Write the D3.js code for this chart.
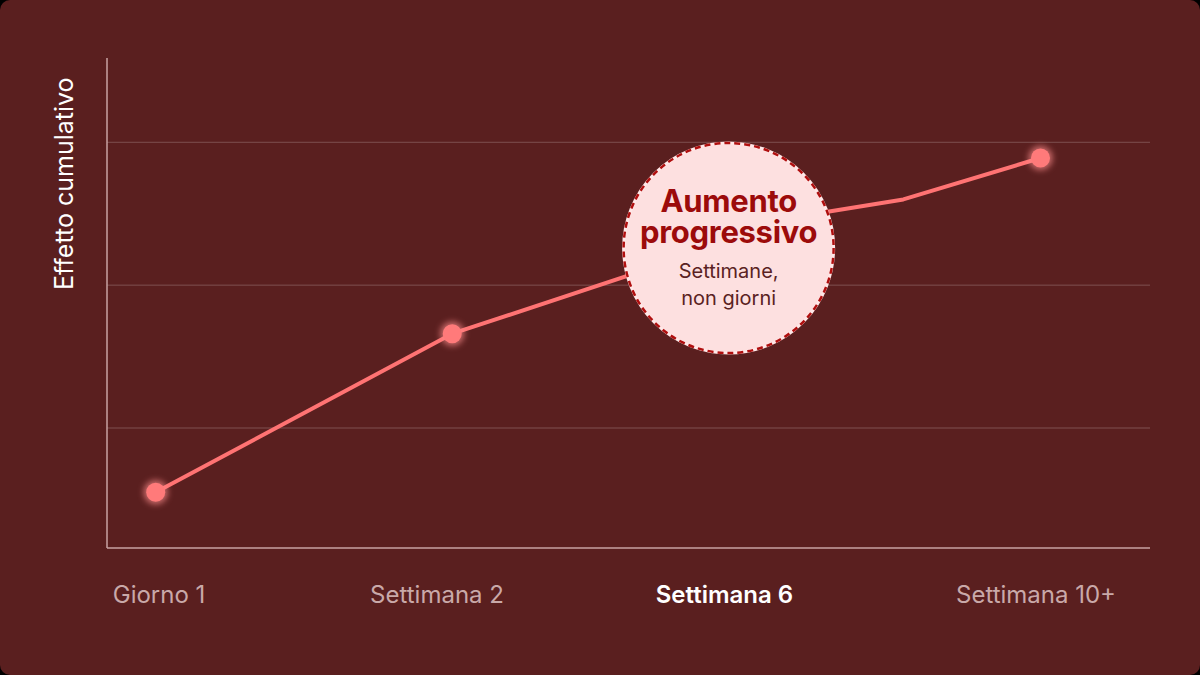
<!DOCTYPE html>
<html>
<head>
<meta charset="utf-8">
<script src="https://cdnjs.cloudflare.com/ajax/libs/d3/7.8.5/d3.min.js"></script>
<style>
  html, body { margin: 0; padding: 0; background: #000; }
  svg { display: block; font-family: Inter, 'Noto Sans', sans-serif; }
</style>
</head>
<body>
<div id="chart"></div>
<script>
// x is position along the time axis (0-100), y is cumulative effect
const pointX = [4.67, 33.1, 67.9, 76.35, 89.5];
const pointY = [0.55, 1.66, 2.5, 2.6, 2.89];
const pointDot = [true, true, false, false, true];

const categories = ['Giorno 1', 'Settimana 2', 'Settimana 6', 'Settimana 10+'];
const categoryX = [4.99, 31.64, 59.2, 89.07];
const highlighted = 'Settimana 6';

const gridValues = [1, 2, 3];
const yTitle = 'Effetto cumulativo';

const calloutTitle = ['Aumento', 'progressivo'];
const calloutText = ['Settimane,', 'non giorni'];
const calloutAt = { x: 59.6, y: 2.26 };

const width = 1200;
const height = 675;
const margin = { top: 58, right: 50, bottom: 127, left: 107 };

const svg = d3.select('#chart')
    .append('svg')
    .attr('width', width)
    .attr('height', height);

svg.append('rect')
    .attr('width', width)
    .attr('height', height)
    .attr('rx', 10)
    .attr('fill', '#5a1f1f');

const defs = svg.append('defs');
defs.append('filter')
    .attr('id', 'glow')
    .attr('x', '-100%').attr('y', '-100%')
    .attr('width', '300%').attr('height', '300%')
    .append('feGaussianBlur')
    .attr('stdDeviation', 3);

const xScale = d3.scaleLinear()
    .domain([0, 100])
    .range([margin.left, width - margin.right]);

const yScale = d3.scaleLinear()
    .domain([0.16, 3.59])
    .range([height - margin.bottom, margin.top]);

// gridlines
svg.selectAll('.grid')
    .data(gridValues)
    .enter()
    .append('line')
    .attr('class', 'grid')
    .attr('x1', xScale(0))
    .attr('x2', xScale(100))
    .attr('y1', d => yScale(d))
    .attr('y2', d => yScale(d))
    .attr('stroke', 'rgba(255,255,255,0.22)')
    .attr('stroke-width', 1);

// axes
svg.append('line')
    .attr('x1', xScale(0)).attr('x2', xScale(0))
    .attr('y1', yScale.range()[0]).attr('y2', yScale.range()[1])
    .attr('stroke', '#c9a3a3')
    .attr('stroke-width', 1.5);

svg.append('line')
    .attr('x1', xScale(0)).attr('x2', xScale(100))
    .attr('y1', yScale.range()[0]).attr('y2', yScale.range()[0])
    .attr('stroke', '#c9a3a3')
    .attr('stroke-width', 1.5);

svg.append('text')
    .attr('transform', `translate(73, ${yScale(0.16) - 258}) rotate(-90)`)
    .attr('text-anchor', 'start')
    .attr('fill', '#ffffff')
    .style('font-size', '25px')
    .text(yTitle);

svg.selectAll('.cat-label')
    .data(categories)
    .enter()
    .append('text')
    .attr('class', 'cat-label')
    .attr('x', (d, i) => xScale(categoryX[i]))
    .attr('y', 603)
    .attr('text-anchor', 'middle')
    .attr('fill', d => d === highlighted ? '#ffffff' : '#c9a9a9')
    .style('font-size', '24px')
    .style('font-weight', d => d === highlighted ? 600 : 400)
    .text(d => d);

// line
const data = pointX.map((x, i) => ({ x, y: pointY[i], dot: pointDot[i] }));

const line = d3.line()
    .x(d => xScale(d.x))
    .y(d => yScale(d.y));

svg.append('path')
    .datum(data)
    .attr('d', line)
    .attr('fill', 'none')
    .attr('stroke', '#ff7373')
    .attr('stroke-width', 4)
    .attr('stroke-linejoin', 'round');

const dots = data.filter(d => d.dot);

svg.selectAll('.dot-glow')
    .data(dots)
    .enter()
    .append('circle')
    .attr('class', 'dot-glow')
    .attr('cx', d => xScale(d.x))
    .attr('cy', d => yScale(d.y))
    .attr('r', 12)
    .attr('fill', '#ff8c8c')
    .attr('opacity', 0.7)
    .attr('filter', 'url(#glow)');

svg.selectAll('.dot')
    .data(dots)
    .enter()
    .append('circle')
    .attr('class', 'dot')
    .attr('cx', d => xScale(d.x))
    .attr('cy', d => yScale(d.y))
    .attr('r', 9.5)
    .attr('fill', '#ff7a7a');

// callout bubble
const cx = xScale(calloutAt.x);
const cy = yScale(calloutAt.y);

svg.append('circle')
    .attr('cx', cx).attr('cy', cy).attr('r', 105)
    .attr('fill', '#fde0e0')
    .attr('stroke', '#ffe8e8')
    .attr('stroke-width', 3);

svg.append('circle')
    .attr('cx', cx).attr('cy', cy).attr('r', 105)
    .attr('fill', 'none')
    .attr('stroke', '#b00f0f')
    .attr('stroke-width', 2.5)
    .attr('stroke-dasharray', '6 4');

// two-line heading kept in one text block
svg.append('text')
    .attr('class', 'callout-title')
    .attr('text-anchor', 'middle')
    .attr('fill', '#9c0b0b')
    .style('font-size', '31px')
    .style('font-weight', 700)
    .style('letter-spacing', '-0.3px')
    .selectAll('tspan')
    .data(calloutTitle)
    .enter()
    .append('tspan')
    .attr('x', cx)
    .attr('y', (d, i) => cy - 36 + i * 31)
    .text(d => d);

svg.append('text')
    .attr('class', 'callout-text')
    .attr('text-anchor', 'middle')
    .attr('fill', '#5a2222')
    .style('font-size', '20px')
    .selectAll('tspan')
    .data(calloutText)
    .enter()
    .append('tspan')
    .attr('x', cx)
    .attr('y', (d, i) => cy + 30 + i * 27)
    .text(d => d);
</script>
</body>
</html>
